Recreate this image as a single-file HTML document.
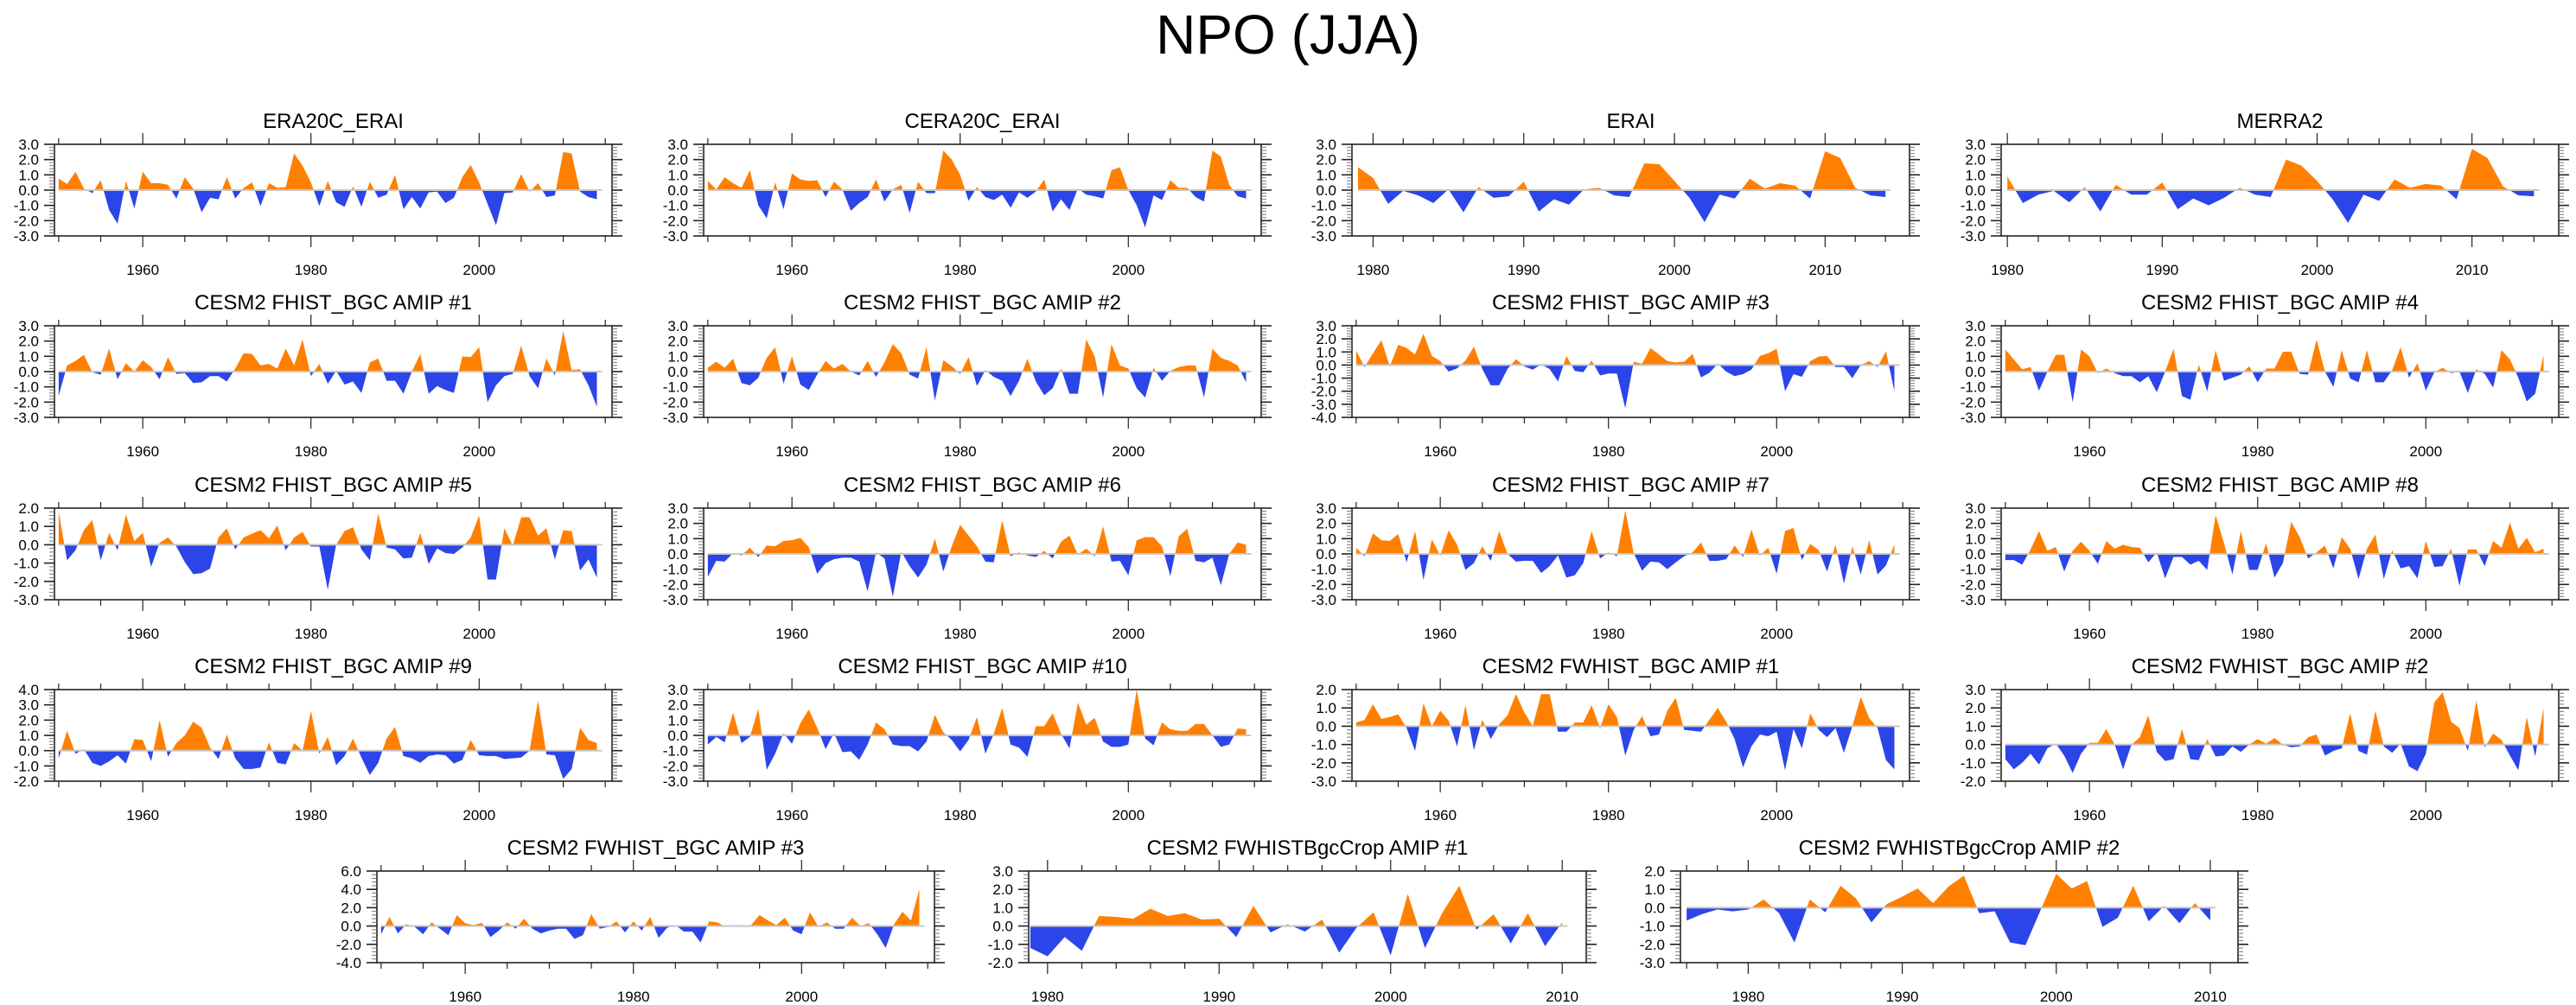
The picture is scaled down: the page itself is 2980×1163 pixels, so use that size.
<!DOCTYPE html>
<html>
<head>
<meta charset="utf-8">
<style>
html,body{margin:0;padding:0;background:#fff;}
svg{display:block;font-family:"Liberation Sans",Arial,sans-serif;}
</style>
</head>
<body>
<svg id="fig" width="2980" height="1163" viewBox="0 0 2980 1163" xmlns="http://www.w3.org/2000/svg">
<text x="1490" y="62" text-anchor="middle" font-size="64" fill="#000">NPO (JJA)</text>
</svg>
<script>
// ---- data ----
const titles = ["ERA20C_ERAI","CERA20C_ERAI","ERAI","MERRA2",
 "CESM2 FHIST_BGC AMIP #1","CESM2 FHIST_BGC AMIP #2","CESM2 FHIST_BGC AMIP #3","CESM2 FHIST_BGC AMIP #4",
 "CESM2 FHIST_BGC AMIP #5","CESM2 FHIST_BGC AMIP #6","CESM2 FHIST_BGC AMIP #7","CESM2 FHIST_BGC AMIP #8",
 "CESM2 FHIST_BGC AMIP #9","CESM2 FHIST_BGC AMIP #10","CESM2 FWHIST_BGC AMIP #1","CESM2 FWHIST_BGC AMIP #2",
 "CESM2 FWHIST_BGC AMIP #3","CESM2 FWHISTBgcCrop AMIP #1","CESM2 FWHISTBgcCrop AMIP #2"];
const startYears = [1950,1950,1979,1980, 1950,1950,1950,1950, 1950,1950,1950,1950, 1950,1950,1950,1950, 1950,1979,1976];
const era20c = [0.75,0.4,1.2,0.1,-0.2,0.65,-1.3,-2.2,0.6,-1.2, 1.2,0.45,0.45,0.35,-0.55,0.85,0.1,-1.45,-0.5,-0.6, 0.85,-0.55,0.15,0.5,-1.05,0.45,0.15,0.2,2.4,1.6, 0.5,-1.05,0.6,-0.8,-1.1,0.25,-1.1,0.55,-0.5,-0.3, 1.0,-1.25,-0.45,-1.2,-0.15,-0.1,-0.85,-0.5,0.85,1.65, 0.5,-0.9,-2.3,-0.2,-0.15,1.05,-0.1,0.45,-0.45,-0.35, 2.5,2.4,-0.1,-0.45,-0.6];
const cera20c = [0.6,0.05,0.85,0.45,0.15,1.3,-1.0,-1.85,0.5,-1.25, 1.1,0.7,0.6,0.65,-0.45,0.55,0.05,-1.35,-0.85,-0.45, 0.7,-0.75,0.05,0.35,-1.5,0.55,-0.2,-0.2,2.6,2.0, 1.0,-0.7,0.2,-0.45,-0.65,-0.3,-1.15,-0.15,-0.5,-0.1, 0.7,-1.4,-0.6,-1.3,0.1,-0.3,-0.4,-0.55,1.3,1.5, 0.0,-1.0,-2.45,-0.35,-0.65,0.65,0.15,0.15,-0.45,-0.75, 2.6,2.2,0.35,-0.4,-0.55];
const erai = [1.5,0.8,-0.9,-0.05,-0.35,-0.85,0.05,-1.45,0.2,-0.5, -0.4,0.55,-1.4,-0.6,-0.95,0.05,0.15,-0.35,-0.45,1.75, 1.7,0.6,-0.5,-2.1,-0.3,-0.55,0.75,0.1,0.45,0.3, -0.55,2.55,2.1,0.15,-0.35,-0.45];
const merra2 = [0.9,-0.85,-0.3,-0.05,-0.8,0.2,-1.4,0.35,-0.3,-0.3, 0.5,-1.25,-0.55,-1.0,-0.5,0.15,-0.3,-0.45,2.0,1.6, 0.6,-0.6,-2.15,-0.3,-0.7,0.7,0.15,0.4,0.3,-0.6, 2.7,2.1,0.25,-0.35,-0.4];
const amip1 = [-1.6,0.4,0.7,1.1,-0.05,-0.2,1.5,-0.5,0.55,0.0, 0.75,0.3,-0.5,0.95,-0.15,-0.1,-0.75,-0.7,-0.3,-0.3, -0.65,0.2,1.2,1.15,0.4,0.5,0.2,1.5,0.4,2.1, -0.3,0.5,-0.8,0.05,-0.85,-0.65,-1.4,0.6,0.85,-0.6, -0.6,-1.45,0.0,1.15,-1.45,-0.95,-1.2,-1.4,1.0,0.95, 1.6,-2.0,-0.9,-0.3,-0.15,1.7,-0.3,-1.1,0.85,-0.25, 2.65,0.1,0.15,-0.9,-2.3];
const amip2 = [0.25,0.65,0.25,0.85,-0.75,-0.9,-0.4,0.9,1.6,-0.8, 1.0,-0.85,-1.2,-0.2,0.7,0.2,0.5,0.0,-0.25,0.7, -0.35,0.6,1.8,1.2,-0.2,-0.45,1.6,-1.9,0.75,0.35, -0.15,0.95,-0.95,0.1,-0.35,-0.6,-1.6,-0.6,0.85,-0.65, -1.55,-1.1,0.2,-1.45,-1.45,2.1,1.0,-1.7,1.8,0.4, 0.2,-1.1,-1.7,0.25,-0.6,0.05,0.3,0.4,0.4,-1.7, 1.5,0.9,0.7,0.4,-0.7];
const amip3 = [1.1,-0.15,0.9,1.9,-0.1,1.55,1.3,0.8,2.4,0.7, 0.3,-0.5,-0.25,0.35,1.4,-0.3,-1.55,-1.55,-0.3,0.45, -0.1,-0.35,0.05,-0.3,-1.25,0.7,-0.45,-0.55,0.35,-0.8, -0.65,-0.65,-3.3,0.25,0.1,1.3,0.8,0.3,0.2,0.25, 0.85,-0.95,-0.6,0.1,-0.5,-0.85,-0.7,-0.35,0.7,0.9, 1.25,-2.0,-0.7,-0.9,0.3,0.65,0.7,-0.15,-0.15,-1.0, 0.0,0.3,-0.15,1.05,-2.0];
const amip4 = [1.45,0.8,0.15,0.3,-1.25,0.0,1.1,1.1,-2.0,1.45, 1.0,-0.1,0.2,-0.1,-0.3,-0.3,-0.7,-0.3,-1.35,0.0, 1.5,-1.6,-1.85,0.45,-1.3,1.4,-0.6,-0.4,-0.2,0.35, -0.7,0.2,0.2,1.3,1.3,-0.15,-0.2,2.1,0.0,-1.0, 1.4,-0.45,-0.7,1.4,-0.7,-0.7,0.1,1.6,-0.4,0.55, -1.25,-0.05,0.25,-0.1,0.0,-1.4,0.15,-0.15,-1.05,1.4, 0.8,-0.4,-1.95,-1.45,1.1];
const amip5 = [1.8,-0.85,-0.3,0.8,1.35,-0.85,0.65,-0.3,1.65,0.2, 0.65,-1.2,0.1,0.4,-0.1,-0.95,-1.6,-1.55,-1.3,0.4, 0.9,-0.25,0.4,0.6,0.8,0.35,1.05,-0.3,0.4,0.7, -0.1,-0.1,-2.45,0.0,0.75,0.95,-0.25,-0.85,1.7,-0.15, -0.25,-0.75,-0.7,0.65,-1.05,-0.2,-0.45,-0.5,-0.15,0.4, 1.6,-1.9,-1.9,0.9,-0.05,1.5,1.5,0.5,0.9,-0.8, 0.8,0.75,-1.4,-0.8,-1.8];
const amip6 = [-1.5,-0.45,-0.5,0.05,-0.1,0.4,-0.2,0.55,0.5,0.85, 0.9,1.05,0.45,-1.3,-0.6,-0.35,-0.25,-0.25,-0.5,-2.45, 0.1,-0.3,-2.8,0.15,-0.8,-1.55,-0.7,1.0,-1.15,0.5, 1.9,1.2,0.5,-0.5,-0.55,2.2,-0.15,0.1,-0.1,-0.2, 0.2,-0.3,0.8,1.2,-0.05,0.35,-0.15,1.8,-0.5,-0.45, -1.4,0.9,1.1,1.1,0.5,-1.45,1.15,1.65,-0.45,-0.55, -0.25,-2.05,0.0,0.75,0.6];
const amip7 = [0.4,-0.15,1.35,0.9,0.85,1.3,-0.55,1.5,-1.7,0.95, -0.1,1.55,0.6,-1.05,-0.6,0.5,-0.45,1.5,0.0,-0.5, -0.45,-0.45,-1.25,-0.8,-0.1,-1.55,-1.4,-0.6,1.5,-0.3, 0.1,-0.15,2.85,0.05,-1.1,-0.5,-0.55,-1.0,-0.55,-0.15, 0.1,0.75,-0.45,-0.45,-0.35,0.55,-0.2,1.6,-0.1,0.4, -1.3,1.5,1.7,-0.4,0.65,0.25,-1.15,0.6,-1.95,0.5, -1.35,0.9,-1.35,-0.75,0.6];
const amip8 = [-0.4,-0.4,-0.7,0.3,1.5,0.2,0.45,-1.15,0.2,0.8, 0.2,-0.65,0.85,0.35,0.6,0.45,0.4,-0.55,0.1,-1.6, -0.2,-0.2,-0.7,-0.45,-1.05,2.55,0.7,-1.35,1.5,-1.05, -1.05,0.7,-1.55,-0.6,2.1,1.1,-0.3,0.1,0.55,-0.95, 1.1,0.35,-1.65,0.35,1.25,-1.65,0.25,-0.95,-0.8,-1.6, 0.85,-0.85,-0.8,0.35,-2.1,0.3,0.3,-0.8,0.85,0.4, 2.05,0.35,1.05,0.1,0.35];
const amip9 = [-0.5,1.3,-0.2,0.1,-0.8,-1.0,-0.7,-0.3,-0.85,0.75, 0.7,-0.7,2.0,-0.4,0.5,1.0,1.9,1.5,0.2,-0.55, 1.05,-0.5,-1.2,-1.2,-1.1,0.55,-0.8,-0.9,0.5,0.0, 2.6,-0.2,0.9,-0.95,-0.35,0.8,-0.45,-1.6,-0.8,0.8, 1.55,-0.35,-0.5,-0.8,-0.35,-0.25,-0.3,-0.85,-0.6,0.7, -0.3,-0.35,-0.35,-0.55,-0.5,-0.45,0.0,3.3,-0.25,-0.3, -1.85,-1.2,1.5,0.7,0.5];
const amip10 = [-0.6,-0.1,-0.45,1.5,-0.5,-0.1,1.75,-2.25,-1.2,0.15, -0.55,0.8,1.7,0.5,-0.9,0.15,-1.1,-1.05,-1.6,-0.6, 0.85,0.4,-0.6,-0.7,-0.7,-1.05,-0.4,1.35,0.2,-0.3, -1.05,-0.3,1.2,-1.2,0.1,1.8,-0.6,-0.8,-1.4,0.6, 0.6,1.45,0.1,-0.85,2.15,0.7,1.15,-0.4,-0.75,-0.75, -0.6,3.0,-0.2,-0.65,0.85,0.4,0.3,0.3,0.75,0.75, 0.0,-0.75,-0.6,0.45,0.4];
const fw1 = [0.2,0.35,1.2,0.4,0.5,0.65,-0.1,-1.35,1.25,0.0, 0.85,0.3,-1.1,1.15,-1.3,0.35,-0.7,0.1,0.6,1.75, 0.75,0.0,1.75,1.75,-0.3,-0.3,0.2,0.2,1.15,-0.1, 1.2,0.5,-1.6,-0.2,0.55,-0.55,-0.45,0.85,1.55,-0.2, -0.25,-0.3,0.35,1.0,0.25,-0.7,-2.25,-1.1,-0.45,-0.55, -0.3,-2.4,-0.15,-1.2,0.7,-0.2,-0.6,-0.1,-1.45,0.0, 1.6,0.45,-0.1,-1.85,-2.35];
const fw2 = [-0.8,-1.35,-1.0,-0.5,-1.1,-0.2,0.05,-0.6,-1.55,-0.5, 0.1,0.1,0.85,0.0,-1.35,0.0,0.4,1.6,-0.4,-0.9, -0.8,0.85,-0.8,-0.85,0.3,-0.65,-0.6,-0.1,-0.4,0.0, 0.3,0.05,0.35,0.0,-0.15,-0.1,0.4,0.55,-0.6,-0.35, -0.2,1.7,-0.35,-0.55,1.85,-0.1,-0.45,0.05,-1.2,-1.45, -0.5,2.3,2.85,1.25,0.9,-0.35,2.4,-0.15,0.6,0.25, -0.6,-1.4,1.5,-0.65,2.0];
const fw3 = [-0.9,1.0,-0.8,0.2,-0.1,-0.9,0.4,-0.3,-1.0,1.2, 0.3,0.1,0.35,-1.2,-0.5,0.4,-0.3,0.8,-0.3,-0.8, -0.5,-0.3,-0.3,-1.4,-1.0,1.3,-0.3,-0.1,0.5,-0.7, 0.5,-0.5,1.0,-1.3,-0.2,0.1,-0.6,-0.6,-1.8,0.5, 0.4,-0.1,0.0,-0.1,0.1,1.2,0.6,0.1,0.9,-0.5, -0.9,1.5,-0.1,0.4,-0.3,-0.3,0.9,0.0,0.3,-0.9, -2.4,0.2,1.55,0.6,4.0];
const crop1 = [-1.2,-1.65,-0.6,-1.35,0.55,0.5,0.4,0.95,0.55,0.7, 0.35,0.4,-0.6,1.1,-0.35,0.1,-0.3,0.35,-1.45,-0.1, 0.75,-1.6,1.75,-1.2,0.7,2.2,-0.2,0.65,-0.95,0.7, -1.1,0.2];
const crop2 = [-0.7,-0.35,-0.1,-0.2,-0.1,0.45,-0.3,-1.9,0.45,-0.25, 1.2,0.5,-0.8,0.2,0.6,1.05,0.25,1.15,1.75,-0.3, -0.2,-1.9,-2.05,-0.1,1.85,1.05,1.45,-1.05,-0.55,1.2, -0.75,0.1,-0.85,0.25,-0.7];
const seriesList = [era20c,cera20c,erai,merra2,amip1,amip2,amip3,amip4,amip5,amip6,amip7,amip8,amip9,amip10,fw1,fw2,fw3,crop1,crop2];
const yMins = [-3,-3,-3,-3, -3,-3,-4,-3, -3,-3,-3,-3, -2,-3,-3,-2, -4,-2,-3];
const yMaxs = [3,3,3,3, 3,3,3,3, 2,3,3,3, 4,3,2,3, 6,3,2];
const yTickSteps = [1,1,1,1, 1,1,1,1, 1,1,1,1, 1,1,1,1, 2,1,1];

// ---- layout (not data) ----
const PW = 645, PH = 106;
const colLefts = [63, 814, 1564, 2315];
const rowTops = [167, 377, 588, 798, 1008];
const row5Lefts = [436, 1190, 1944];
const ORANGE = "#ff8000", BLUE = "#2b45e8";
const NS = "http://www.w3.org/2000/svg";
const svg = document.getElementById("fig");

function mk(tag, attrs, parent){
  const e = document.createElementNS(NS, tag);
  for (const k in attrs) e.setAttribute(k, attrs[k]);
  (parent || svg).appendChild(e);
  return e;
}

function xAxisSpec(i){
  const s = startYears[i];
  if (i === 2) return {x0:1978.6, x1:2015.6, major:10, minor:2, first:1980};
  if (i === 3) return {x0:1979.6, x1:2015.6, major:10, minor:2, first:1980};
  if (i === 17) return {x0:1978.9, x1:2011.4, major:10, minor:2, first:1980};
  if (i === 18) return {x0:1975.6, x1:2011.8, major:10, minor:2, first:1980};
  return {x0:1949.5, x1:2015.8, major:20, minor:5, first:1960, s:s};
}

for (let i = 0; i < 19; i++){
  const L = i < 16 ? colLefts[i % 4] : row5Lefts[i - 16];
  const T = rowTops[Math.floor(i / 4)] !== undefined && i < 16 ? rowTops[Math.floor(i / 4)] : rowTops[4];
  const ax = xAxisSpec(i);
  const y0 = yMins[i], y1 = yMaxs[i], ys = yTickSteps[i];
  const vals = seriesList[i];
  const sy0 = startYears[i];
  const sx = v => L + (v - ax.x0) / (ax.x1 - ax.x0) * PW;
  const sy = v => T + (y1 - v) / (y1 - y0) * PH;

  const g = mk("g", {});
  
  

  // title
  const tt = mk("text", {x: L + PW / 2, y: T - 19, "text-anchor": "middle", "font-size": 24, fill: "#000"}, g);
  tt.textContent = titles[i];
  
  

  // clip paths
  const defs = mk("defs", {}, g);
  const cu = mk("clipPath", {id: "cu" + i}, defs);
  mk("rect", {x: L, y: T, width: PW, height: Math.max(0, sy(0) - T)}, cu);
  const cl = mk("clipPath", {id: "cl" + i}, defs);
  mk("rect", {x: L, y: sy(0), width: PW, height: Math.max(0, T + PH - sy(0))}, cl);

  // polygon from data
  let pts = sx(sy0).toFixed(2) + "," + sy(0).toFixed(2);
  for (let k = 0; k < vals.length; k++){
    pts += " " + sx(sy0 + k).toFixed(2) + "," + sy(vals[k]).toFixed(2);
  }
  pts += " " + sx(sy0 + vals.length - 1).toFixed(2) + "," + sy(0).toFixed(2);
  const pos = mk("polygon", {points: pts, fill: ORANGE, "clip-path": "url(#cu" + i + ")"}, g);
  
  
  const neg = mk("polygon", {points: pts, fill: BLUE, "clip-path": "url(#cl" + i + ")"}, g);
  
  

  // zero line
  const zl = mk("line", {x1: sx(sy0), x2: Math.min(L + PW, sx(sy0 + vals.length - 1) + 6), y1: sy(0), y2: sy(0), stroke: "#c8c8c8", "stroke-width": 2}, g);
  
  

  // box
  const box = mk("rect", {x: L, y: T, width: PW, height: PH, fill: "none", stroke: "#222", "stroke-width": 1.6}, g);
  
  

  // x ticks
  const startMinor = Math.ceil(ax.x0 / ax.minor) * ax.minor;
  for (let yr = startMinor; yr <= ax.x1; yr += ax.minor){
    const isMaj = ((yr - ax.first) % ax.major) === 0;
    const len = isMaj ? 13 : 7;
    const x = sx(yr);
    mk("line", {x1: x, x2: x, y1: T, y2: T - len, stroke: "#222", "stroke-width": 1.2}, g);
    mk("line", {x1: x, x2: x, y1: T + PH, y2: T + PH + len, stroke: "#222", "stroke-width": 1.2}, g);
    if (isMaj){
      const lt = mk("text", {x: x, y: T + PH + 45, "text-anchor": "middle", "font-size": 17, fill: "#000"}, g);
      lt.textContent = String(yr);
      
      
    }
  }
  // y ticks
  const minorStep = ys / 5;
  const nMin = Math.round((y1 - y0) / minorStep);
  for (let k = 0; k <= nMin; k++){
    const v = y0 + k * minorStep;
    const isMaj = k % 5 === 0;
    const len = isMaj ? 12 : 6;
    const y = sy(v);
    mk("line", {x1: L, x2: L - len, y1: y, y2: y, stroke: isMaj ? "#222" : "#777", "stroke-width": isMaj ? 1.6 : 1}, g);
    mk("line", {x1: L + PW, x2: L + PW + len, y1: y, y2: y, stroke: isMaj ? "#222" : "#777", "stroke-width": isMaj ? 1.6 : 1}, g);
    if (isMaj){
      const yl = mk("text", {x: L - 18, y: y + 6, "text-anchor": "end", "font-size": 17, fill: "#000"}, g);
      yl.textContent = v.toFixed(1);
      
      
    }
  }
}
</script>
</body>
</html>
